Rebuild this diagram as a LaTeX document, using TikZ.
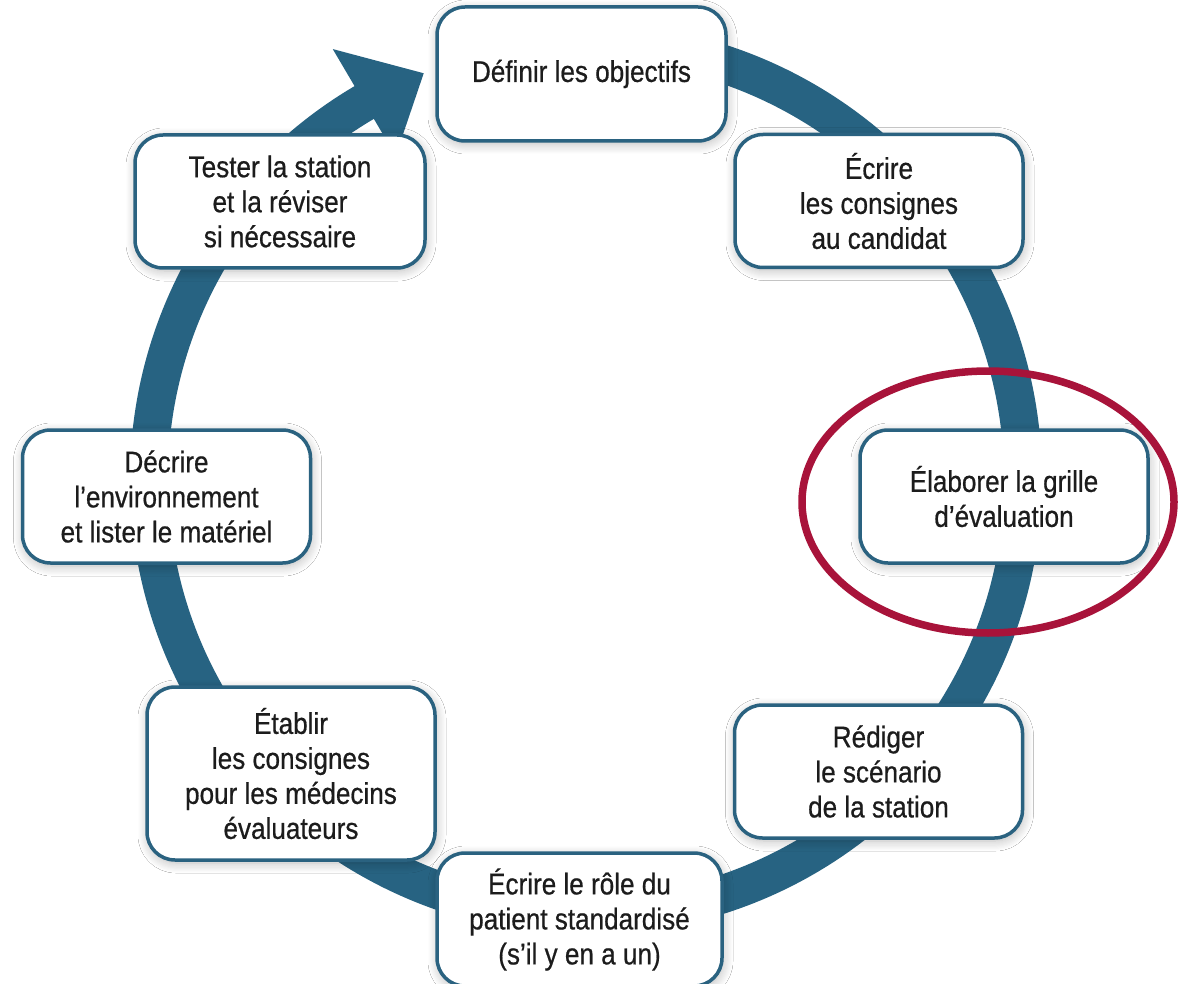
\documentclass[tikz,border=0pt]{standalone}
\usepackage{fontspec}
\setmainfont{Liberation Sans}[FakeStretch=0.87,FakeBold=0.6]
\usetikzlibrary{calc,shadows.blur}
\definecolor{ringc}{RGB}{39,99,130}
\definecolor{boxc}{RGB}{42,98,128}
\definecolor{redc}{RGB}{168,19,58}
\definecolor{txtc}{RGB}{28,28,28}
\tikzset{
  stepbox/.style={draw=boxc, line width=3.5pt, fill=white, rounded corners=28pt,
    minimum width=288pt, minimum height=133pt, inner sep=0pt, align=center,
    text=txtc, font=\fontsize{30}{35}\selectfont,
    blur shadow={shadow blur steps=10, shadow blur radius=10pt, shadow xshift=1pt, shadow yshift=-3pt, shadow opacity=28}},
  ringline/.style={draw=ringc, line width=38pt},
  highlight/.style={draw=redc, line width=7.5pt}
}
\begin{document}
\begin{tikzpicture}[x=1pt,y=1pt]
\clip (0,0) rectangle (1194,-984);
\fill[white] (0,0) rectangle (1194,-984);
\coordinate (c) at (586,-479);
% ring
\draw[ringline] ([shift={(c)}]95:437) arc[start angle=95, end angle=-239.8, radius=437];
% arrowhead
\coordinate (barbout) at ([shift={(c)}]120.5:499);
\coordinate (tip) at ([shift={(c)}]111.8:437);
\coordinate (barbin) at ([shift={(c)}]120.5:375);
\fill[ringc] (barbout) -- (tip) -- (barbin) -- cycle;
% boxes
\node[stepbox, minimum width=289pt, minimum height=134pt] (def) at (581.5,-74) {Définir les objectifs};
\node[stepbox] (ecr) at (879,-201) {Écrire\\les consignes\\au candidat};
\node[stepbox] (elab) at (1004,-496.5) {Élaborer la grille\\d’évaluation};
\node[stepbox] (red) at (878.5,-771.5) {Rédiger\\le scénario\\de la station};
\node[stepbox, minimum width=285pt] (role) at (579.5,-919.5) {Écrire le rôle du\\patient standardisé\\(s’il y en a un)};
\node[stepbox, minimum height=173pt] (etab) at (291,-773.5) {Établir\\les consignes\\pour les médecins\\évaluateurs};
\node[stepbox] (decr) at (166.5,-496.5) {Décrire\\l’environnement\\et lister le matériel};
\node[stepbox, minimum width=290pt] (test) at (280,-201.5) {Tester la station\\et la réviser\\si nécessaire};
% highlight
\draw[highlight] (elab.center) ++(-16,-5.5) ellipse[x radius=186, y radius=131];
\end{tikzpicture}
\end{document}
